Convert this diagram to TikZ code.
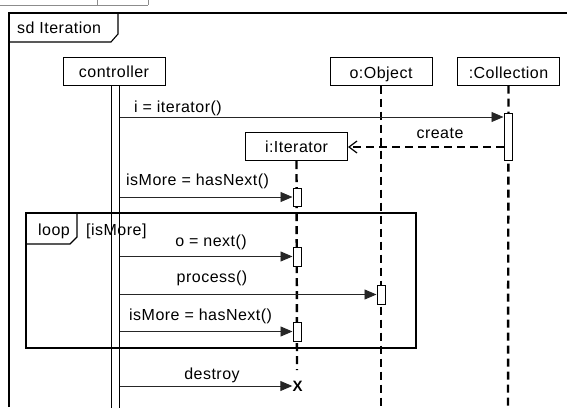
\documentclass[tikz,border=0pt]{standalone}
\usepackage{fontspec}
\setmainfont{Liberation Sans}[LetterSpace=3]
\usetikzlibrary{arrows.meta}
\newcommand\umlfont{\fontsize{16}{19}\selectfont}
\begin{document}
\begin{tikzpicture}[x=1pt,y=-1pt,
  lbl/.style={inner sep=0pt, font=\umlfont},
  objbox/.style={draw, fill=white, line width=1pt, minimum width=102pt,
    minimum height=28pt, inner sep=0pt},
  lifeline/.style={line width=2.4pt, dash pattern=on 8pt off 5pt},
  actbar/.style={draw, fill=white, line width=1pt, minimum width=8pt, inner sep=0pt},
  msg/.style={line width=0.9pt, draw=black!85, -{Triangle[length=12pt,width=10pt]}},
  reply/.style={line width=2.2pt, dash pattern=on 8pt off 5pt,
    -{Straight Barb[length=8pt,width=12pt,line width=1.2pt]}},
  framel/.style={line width=1.1pt}
]
\useasboundingbox (0,0) rectangle (567,407);

% remains of the table above the frame
\draw[black!45, line width=0.8pt] (0,5) -- (148,5) (97,0) -- (97,5) (148,0) -- (148,5);

% outer sd frame and its name tab
\draw[framel] (9,407) -- (9,13) -- (567,13);
\draw[framel] (9,42) -- (111,42) -- (118,34) -- (118,13);
\node[lbl, anchor=base west] (sdname) at (17,33) {sd Iteration};

% controller's execution bar: two open lines running past the bottom
\node[draw, line width=1pt, minimum width=8pt, minimum height=335pt, inner sep=0pt]
  (cbar) at (115,252.5) {};

% loop combined fragment
\draw[framel] (26,213) rectangle (416,348);
\draw[framel] (26,244) -- (70,244) -- (77,237) -- (77,213);
\node[lbl, anchor=base] (looplbl) at (54,235) {loop};
\node[lbl, anchor=base west] (guard) at (86,235) {[isMore]};

% lifelines
\coordinate (itEnd) at (297,370);
\coordinate (objEnd) at (381,407);
\coordinate (colEnd) at (508,407);
\node[objbox] (ctrl) at (114,71) {};
\node[objbox] (obj) at (381,71) {};
\node[objbox] (col) at (508.5,71) {};
\node[objbox] (it) at (296.5,146.5) {};
\draw[lifeline] (it.south) -- (itEnd);
\draw[lifeline] (obj.south) -- (objEnd);
\draw[lifeline] (col.south) -- (colEnd);

% object names
\node[lbl, anchor=base] (ctrlname) at (114,77) {controller};
\node[lbl, anchor=base] (objname) at (381,78) {o:Object};
\node[lbl, anchor=base] (colname) at (508.5,78) {:Collection};
\node[lbl, anchor=base] (itname) at (296.5,152) {i:Iterator};

% activation bars
\node[actbar, minimum height=47pt] (colbar) at (508,136.5) {};
\node[actbar, minimum height=18pt] (itbarA) at (297,197) {};
\node[actbar, minimum height=19pt] (itbarB) at (297,256.5) {};
\node[actbar, minimum height=19pt] (objbar) at (381,294.5) {};
\node[actbar, minimum height=19pt] (itbarC) at (297,331.5) {};

% messages
\coordinate (yIter) at (0,117);
\coordinate (yCreate) at (0,147);
\coordinate (yDestroy) at (0,386);
\draw[msg] (cbar.east |- yIter) -- (colbar.west |- yIter);
\node[lbl, anchor=base west] (m1) at (134,112) {i = iterator()};

\draw[reply] (colbar.west |- yCreate) -- (it.east |- yCreate);
\node[lbl, anchor=base] (m2) at (440,138) {create};

\draw[msg] (cbar.east |- itbarA.west) -- (itbarA.west);
\node[lbl, anchor=base west] (m3) at (126,185) {isMore = hasNext()};

\draw[msg] (cbar.east |- itbarB.west) -- (itbarB.west);
\node[lbl, anchor=base] (m4) at (211,246) {o = next()};

\draw[msg] (cbar.east |- objbar.west) -- (objbar.west);
\node[lbl, anchor=base] (m5) at (212,282) {process()};

\draw[msg] (cbar.east |- itbarC.west) -- (itbarC.west);
\node[lbl, anchor=base west] (m6) at (129,320) {isMore = hasNext()};

\node[inner sep=0pt, font=\fontsize{15}{18}\selectfont\bfseries] (xmark) at (297.5,386.5) {X};
\draw[msg] (cbar.east |- yDestroy) -- (xmark.west |- yDestroy);
\node[lbl, anchor=base] (m7) at (212,379) {destroy};
\end{tikzpicture}
\end{document}
